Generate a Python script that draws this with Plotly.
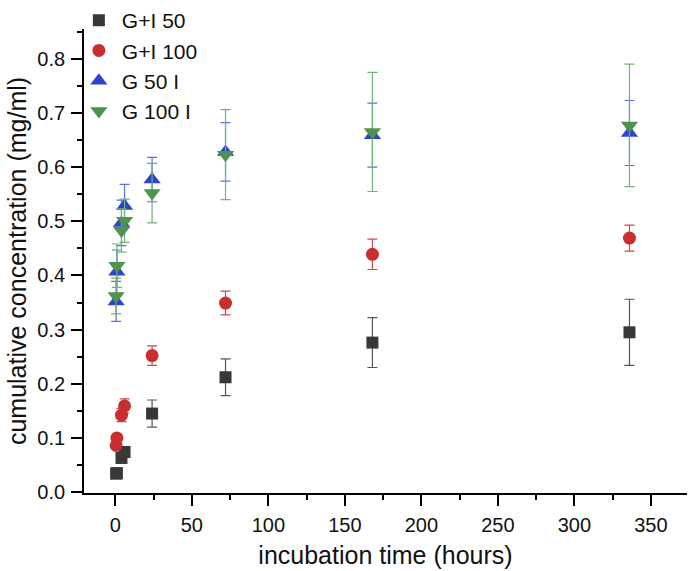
import plotly.graph_objects as go

times = [0.5, 1, 4, 6, 24, 72, 168, 336]

gi50 = [0.034, 0.035, 0.063, 0.074, 0.145, 0.212, 0.276, 0.295]
gi50_err = [0.004, 0.004, 0.006, 0.006, 0.025, 0.034, 0.046, 0.061]

gi100 = [0.086, 0.100, 0.142, 0.159, 0.252, 0.349, 0.439, 0.469]
gi100_err = [0.005, 0.005, 0.012, 0.013, 0.018, 0.022, 0.028, 0.024]

g50i = [0.352, 0.407, 0.497, 0.528, 0.577, 0.628, 0.659, 0.663]
g50i_err = [0.037, 0.040, 0.042, 0.040, 0.041, 0.054, 0.059, 0.060]

g100i = [0.362, 0.418, 0.483, 0.501, 0.552, 0.623, 0.665, 0.677]
g100i_err = [0.033, 0.040, 0.040, 0.040, 0.055, 0.083, 0.110, 0.113]

names = ["G+I 50", "G+I 100", "G 50 I", "G 100 I"]
series = [gi50, gi100, g50i, g100i]
errors = [gi50_err, gi100_err, g50i_err, g100i_err]
symbols = ["square", "circle", "triangle-up", "triangle-down"]
sizes = [12, 13, 15, 15]
colors = ["#383838", "#c8302f", "#2f43d2", "#4e944e"]
err_colors = ["#555555", "#d24848", "#5a70e0", "#72b272"]

fig = go.Figure()
for n, y, e, s, sz, c, ec in zip(names, series, errors, symbols, sizes, colors, err_colors):
    fig.add_trace(go.Scatter(
        x=times, y=y, name=n, mode="markers",
        marker=dict(symbol=s, size=sz, color=c, line=dict(width=0)),
        error_y=dict(type="data", array=e, visible=True, color=ec, thickness=1.2, width=5),
    ))

font_family = "Liberation Sans, Arial, sans-serif"
fig.update_layout(
    width=688, height=571,
    margin=dict(l=84, r=1, t=0, b=78),
    paper_bgcolor="white", plot_bgcolor="white",
    font=dict(family=font_family, size=20, color="#111111"),
    showlegend=True,
    legend=dict(x=-0.0135, y=1.063, xanchor="left", yanchor="top",
                font=dict(size=21, color="#111111"), bgcolor="rgba(0,0,0,0)",
                itemwidth=36, tracegroupgap=0),
    xaxis=dict(
        range=[-20.5, 373.6], tickmode="array", tickvals=[0, 50, 100, 150, 200, 250, 300, 350],
        ticks="outside", ticklen=11, tickwidth=1.5, tickcolor="black",
        minor=dict(ticks="outside", ticklen=5, tickwidth=1.5, tickcolor="black", dtick=25, tick0=0),
        showline=True, linecolor="black", linewidth=1.8, showgrid=False, zeroline=False,
        automargin=False, ticklabelstandoff=2,
        title=dict(text="incubation time (hours)", font=dict(size=25), standoff=12),
        tickfont=dict(size=20),
    ),
    yaxis=dict(
        range=[-0.0017, 0.855], tickmode="array",
        tickvals=[0, 0.1, 0.2, 0.3, 0.4, 0.5, 0.6, 0.7, 0.8],
        ticktext=["0.0", "0.1", "0.2", "0.3", "0.4", "0.5", "0.6", "0.7", "0.8"],
        ticks="outside", ticklen=11, tickwidth=1.5, tickcolor="black",
        minor=dict(ticks="outside", ticklen=5, tickwidth=1.5, tickcolor="black", dtick=0.05, tick0=0),
        showline=True, linecolor="black", linewidth=1.8, showgrid=False, zeroline=False,
        automargin=False, ticklabelstandoff=2,
        title=dict(text="cumulative concentration (mg/ml)", font=dict(size=25), standoff=4),
        tickfont=dict(size=20),
    ),
)

fig.write_html("out.html", config={"displayModeBar": False},
               post_script="document.body.style.margin='0px';")
